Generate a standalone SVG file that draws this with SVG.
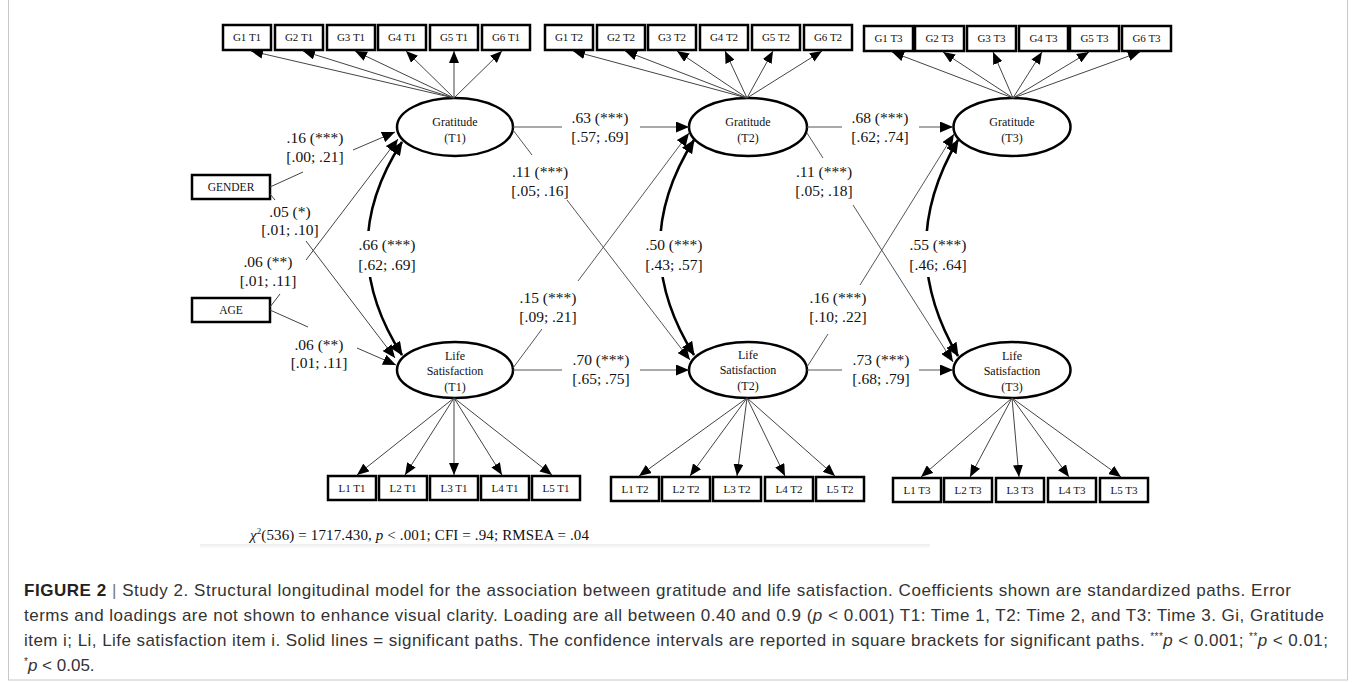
<svg xmlns="http://www.w3.org/2000/svg" width="1356" height="683" viewBox="0 0 1356 683">
<defs>
<marker id="a" markerUnits="userSpaceOnUse" markerWidth="12" markerHeight="10" viewBox="0 0 12 10" refX="12" refY="5" orient="auto"><path d="M0,0 L12,5 L0,10 z" fill="#000"/></marker>
<marker id="b" markerUnits="userSpaceOnUse" markerWidth="13" markerHeight="11" viewBox="0 0 13 11" refX="13" refY="5.5" orient="auto"><path d="M0,0 L13,5.5 L0,11 z" fill="#000"/></marker>
<marker id="c" markerUnits="userSpaceOnUse" markerWidth="14" markerHeight="12" viewBox="0 0 14 12" refX="13" refY="6" orient="auto-start-reverse"><path d="M0,0 L14,6 L0,12 z" fill="#000"/></marker>
<linearGradient id="sh" x1="0" y1="0" x2="0" y2="1"><stop offset="0" stop-color="#eeeeee"/><stop offset="1" stop-color="#fff"/></linearGradient>
</defs>
<style>
.box{fill:#fff;stroke:#000;stroke-width:2.5}
.ell{fill:#fff;stroke:#000;stroke-width:2.5}
.bt{font-family:"Liberation Serif",serif;font-size:11px;text-anchor:middle;fill:#111}
.et{font-family:"Liberation Serif",serif;font-size:12px;text-anchor:middle;fill:#111}
.lb{font-family:"Liberation Serif",serif;font-size:15.5px;text-anchor:middle;fill:#111}
.ld line{stroke:#444;stroke-width:1;marker-end:url(#a)}
.st line{stroke:#555;stroke-width:1}
.st line.ar{marker-end:url(#b)}
.cv{stroke:#000;stroke-width:2.5;fill:none;marker-start:url(#c);marker-end:url(#c)}
.cap{font-family:"Liberation Sans",Arial,sans-serif;font-size:17px;fill:#333}
</style>
<rect x="0" y="0" width="1356" height="683" fill="#fff"/>
<rect x="8.5" y="-5" width="1339" height="685" fill="none" stroke="#c8c8c8" stroke-width="1"/>
<rect x="200" y="544" width="730" height="5" fill="url(#sh)"/>

<g id="g-t1-items">
<rect class="box" x="223" y="25" width="48" height="25"/><text class="bt" x="247" y="41">G1 T1</text>
<rect class="box" x="275" y="25" width="48" height="25"/><text class="bt" x="299" y="41">G2 T1</text>
<rect class="box" x="327" y="25" width="48" height="25"/><text class="bt" x="351" y="41">G3 T1</text>
<rect class="box" x="378" y="25" width="48" height="25"/><text class="bt" x="402" y="41">G4 T1</text>
<rect class="box" x="430" y="25" width="48" height="25"/><text class="bt" x="454" y="41">G5 T1</text>
<rect class="box" x="482" y="25" width="48" height="25"/><text class="bt" x="506" y="41">G6 T1</text>
</g>
<g id="g-t2-items">
<rect class="box" x="545" y="25" width="48" height="25"/><text class="bt" x="569" y="41">G1 T2</text>
<rect class="box" x="597" y="25" width="48" height="25"/><text class="bt" x="621" y="41">G2 T2</text>
<rect class="box" x="648" y="25" width="48" height="25"/><text class="bt" x="672" y="41">G3 T2</text>
<rect class="box" x="700" y="25" width="48" height="25"/><text class="bt" x="724" y="41">G4 T2</text>
<rect class="box" x="752" y="25" width="48" height="25"/><text class="bt" x="776" y="41">G5 T2</text>
<rect class="box" x="804" y="25" width="48" height="25"/><text class="bt" x="828" y="41">G6 T2</text>
</g>
<g id="g-t3-items">
<rect class="box" x="864" y="26" width="49" height="25"/><text class="bt" x="888.5" y="42">G1 T3</text>
<rect class="box" x="915" y="26" width="49" height="25"/><text class="bt" x="939.5" y="42">G2 T3</text>
<rect class="box" x="967" y="26" width="49" height="25"/><text class="bt" x="991.5" y="42">G3 T3</text>
<rect class="box" x="1019" y="26" width="49" height="25"/><text class="bt" x="1043.5" y="42">G4 T3</text>
<rect class="box" x="1070" y="26" width="49" height="25"/><text class="bt" x="1094.5" y="42">G5 T3</text>
<rect class="box" x="1122" y="26" width="49" height="25"/><text class="bt" x="1146.5" y="42">G6 T3</text>
</g>
<g id="l-t1-items">
<rect class="box" x="328" y="476" width="48" height="24"/><text class="bt" x="352" y="492">L1 T1</text>
<rect class="box" x="379" y="476" width="48" height="24"/><text class="bt" x="403" y="492">L2 T1</text>
<rect class="box" x="430" y="476" width="48" height="24"/><text class="bt" x="454" y="492">L3 T1</text>
<rect class="box" x="481" y="476" width="48" height="24"/><text class="bt" x="505" y="492">L4 T1</text>
<rect class="box" x="532" y="476" width="48" height="24"/><text class="bt" x="556" y="492">L5 T1</text>
</g>
<g id="l-t2-items">
<rect class="box" x="611" y="477" width="48" height="24"/><text class="bt" x="635" y="493">L1 T2</text>
<rect class="box" x="662" y="477" width="48" height="24"/><text class="bt" x="686" y="493">L2 T2</text>
<rect class="box" x="713" y="477" width="48" height="24"/><text class="bt" x="737" y="493">L3 T2</text>
<rect class="box" x="765" y="477" width="48" height="24"/><text class="bt" x="789" y="493">L4 T2</text>
<rect class="box" x="816" y="477" width="48" height="24"/><text class="bt" x="840" y="493">L5 T2</text>
</g>
<g id="l-t3-items">
<rect class="box" x="893" y="478" width="48" height="24"/><text class="bt" x="917" y="494">L1 T3</text>
<rect class="box" x="944" y="478" width="48" height="24"/><text class="bt" x="968" y="494">L2 T3</text>
<rect class="box" x="996" y="478" width="48" height="24"/><text class="bt" x="1020" y="494">L3 T3</text>
<rect class="box" x="1048" y="478" width="48" height="24"/><text class="bt" x="1072" y="494">L4 T3</text>
<rect class="box" x="1100" y="478" width="48" height="24"/><text class="bt" x="1124" y="494">L5 T3</text>
</g>
<g id="gender"><rect class="box" x="192" y="175" width="78" height="24"/><text class="et" style="font-size:11.5px" x="231" y="191">GENDER</text></g>
<g id="age"><rect class="box" x="192" y="298" width="78" height="24"/><text class="et" style="font-size:11.5px" x="231" y="314">AGE</text></g>
<g id="grat-t1"><ellipse class="ell" cx="455" cy="127" rx="58" ry="29"/><text class="et" x="455" y="126">Gratitude</text><text class="et" x="455" y="142">(T1)</text></g>
<g id="grat-t2"><ellipse class="ell" cx="748" cy="127" rx="59" ry="29"/><text class="et" x="748" y="126">Gratitude</text><text class="et" x="748" y="142">(T2)</text></g>
<g id="grat-t3"><ellipse class="ell" cx="1012" cy="127" rx="58.5" ry="29"/><text class="et" x="1012" y="126">Gratitude</text><text class="et" x="1012" y="142">(T3)</text></g>
<g id="life-t1"><ellipse class="ell" cx="455" cy="370" rx="58" ry="28"/><text class="et" x="455" y="360">Life</text><text class="et" x="455" y="375">Satisfaction</text><text class="et" x="455" y="391">(T1)</text></g>
<g id="life-t2"><ellipse class="ell" cx="748" cy="370" rx="59" ry="28"/><text class="et" x="748" y="359">Life</text><text class="et" x="748" y="374">Satisfaction</text><text class="et" x="748" y="390">(T2)</text></g>
<g id="life-t3"><ellipse class="ell" cx="1012" cy="370" rx="58.5" ry="28"/><text class="et" x="1012" y="360">Life</text><text class="et" x="1012" y="375">Satisfaction</text><text class="et" x="1012" y="391">(T3)</text></g>

<g id="connectors">
<g class="ld">
<line x1="454" y1="98" x2="251" y2="51"/><line x1="454" y1="98" x2="303" y2="51"/><line x1="454" y1="98" x2="355" y2="51"/>
<line x1="454" y1="98" x2="406" y2="51"/><line x1="454" y1="98" x2="454" y2="51"/><line x1="454" y1="98" x2="502" y2="51"/>
<line x1="747" y1="98" x2="573" y2="51"/><line x1="747" y1="98" x2="625" y2="51"/><line x1="747" y1="98" x2="677" y2="51"/>
<line x1="747" y1="98" x2="725" y2="51"/><line x1="747" y1="98" x2="773" y2="51"/><line x1="747" y1="98" x2="822" y2="51"/>
<line x1="1013" y1="98" x2="892" y2="52"/><line x1="1013" y1="98" x2="943" y2="52"/><line x1="1013" y1="98" x2="993" y2="52"/>
<line x1="1013" y1="98" x2="1042" y2="52"/><line x1="1013" y1="98" x2="1089" y2="52"/><line x1="1013" y1="98" x2="1140" y2="52"/>
<line x1="454" y1="398" x2="357" y2="475"/><line x1="454" y1="398" x2="405" y2="475"/><line x1="454" y1="398" x2="454" y2="475"/>
<line x1="454" y1="398" x2="502" y2="475"/><line x1="454" y1="398" x2="552" y2="475"/>
<line x1="747" y1="398" x2="639" y2="476"/><line x1="747" y1="398" x2="690" y2="476"/><line x1="747" y1="398" x2="737" y2="476"/>
<line x1="747" y1="398" x2="785" y2="476"/><line x1="747" y1="398" x2="835" y2="476"/>
<line x1="1012" y1="398" x2="921" y2="477"/><line x1="1012" y1="398" x2="970" y2="477"/><line x1="1012" y1="398" x2="1019" y2="477"/>
<line x1="1012" y1="398" x2="1069" y2="477"/><line x1="1012" y1="398" x2="1121" y2="477"/>
</g>
<g class="st">
<line x1="513" y1="127" x2="562" y2="127"/><line class="ar" x1="640" y1="127" x2="689" y2="127"/>
<line x1="807" y1="127" x2="842" y2="127"/><line class="ar" x1="919" y1="127" x2="953" y2="127"/>
<line x1="513" y1="370" x2="562" y2="370"/><line class="ar" x1="640" y1="370" x2="689" y2="370"/>
<line x1="807" y1="370" x2="842" y2="370"/><line class="ar" x1="919" y1="370" x2="953" y2="370"/>
<line x1="513" y1="130" x2="532" y2="155"/><line class="ar" x1="567" y1="200" x2="690" y2="360"/>
<line x1="513" y1="368" x2="542" y2="329"/><line class="ar" x1="578" y1="281" x2="689" y2="133"/>
<line x1="807" y1="133" x2="823" y2="158"/><line class="ar" x1="853" y1="205" x2="953" y2="362"/>
<line x1="807" y1="367" x2="828" y2="334"/><line class="ar" x1="860" y1="285" x2="954" y2="134"/>
<line x1="270" y1="187" x2="303" y2="172" style="stroke:#444"/><line class="ar" x1="353" y1="150" x2="395" y2="132" style="stroke:#444"/>
<line x1="270" y1="194" x2="275" y2="200" style="stroke:#444"/><line class="ar" x1="306" y1="241" x2="395" y2="358" style="stroke:#444"/>
<line x1="270" y1="307" x2="280" y2="294" style="stroke:#444"/><line class="ar" x1="306" y1="260" x2="398" y2="139" style="stroke:#444"/>
<line x1="270" y1="310" x2="308" y2="327" style="stroke:#444"/><line class="ar" x1="357" y1="348" x2="396" y2="365" style="stroke:#444"/>
</g>
<path class="cv" d="M402,142 Q333,248 402,355"/>
<path class="cv" d="M694,140 Q626,247 694,355"/>
<path class="cv" d="M958,140 Q894,248 958,356"/>
</g>

<g id="labels">
<rect x="355" y="231" width="64" height="46" fill="#fff"/>
<rect x="642" y="231" width="64" height="46" fill="#fff"/>
<rect x="906" y="231" width="64" height="46" fill="#fff"/>
<text class="lb" x="315" y="143">.16 (***)</text><text class="lb" x="315" y="162">[.00; .21]</text>
<text class="lb" x="290" y="217">.05 (*)</text><text class="lb" x="290" y="235">[.01; .10]</text>
<text class="lb" x="268" y="267">.06 (**)</text><text class="lb" x="268" y="286">[.01; .11]</text>
<text class="lb" x="319" y="350">.06 (**)</text><text class="lb" x="319" y="368">[.01; .11]</text>
<text class="lb" x="387" y="250">.66 (***)</text><text class="lb" x="387" y="270">[.62; .69]</text>
<text class="lb" x="674" y="250">.50 (***)</text><text class="lb" x="674" y="270">[.43; .57]</text>
<text class="lb" x="938" y="250">.55 (***)</text><text class="lb" x="938" y="270">[.46; .64]</text>
<text class="lb" x="600" y="123">.63 (***)</text><text class="lb" x="600" y="142">[.57; .69]</text>
<text class="lb" x="880" y="123">.68 (***)</text><text class="lb" x="880" y="142">[.62; .74]</text>
<text class="lb" x="601" y="365">.70 (***)</text><text class="lb" x="601" y="384">[.65; .75]</text>
<text class="lb" x="881" y="365">.73 (***)</text><text class="lb" x="881" y="384">[.68; .79]</text>
<text class="lb" x="540" y="177">.11 (***)</text><text class="lb" x="540" y="196">[.05; .16]</text>
<text class="lb" x="824" y="177">.11 (***)</text><text class="lb" x="824" y="196">[.05; .18]</text>
<text class="lb" x="548" y="303">.15 (***)</text><text class="lb" x="548" y="322">[.09; .21]</text>
<text class="lb" x="838" y="303">.16 (***)</text><text class="lb" x="838" y="322">[.10; .22]</text>
<text x="250" y="540" font-family="Liberation Serif, serif" font-size="15px" fill="#111" textLength="339" lengthAdjust="spacing"><tspan font-style="italic">χ</tspan><tspan font-size="9px" dy="-6">2</tspan><tspan dy="6">(536) = 1717.430, </tspan><tspan font-style="italic">p</tspan> &lt; .001; CFI = .94; RMSEA = .04</text>
</g>

<g id="caption" class="cap">
<text x="24" y="596" textLength="1267" lengthAdjust="spacing"><tspan font-weight="bold" fill="#222">FIGURE 2</tspan> <tspan fill="#777">|</tspan> Study 2. Structural longitudinal model for the association between gratitude and life satisfaction. Coefficients shown are standardized paths. Error</text>
<text x="24" y="621" textLength="1300" lengthAdjust="spacing">terms and loadings are not shown to enhance visual clarity. Loading are all between 0.40 and 0.9 (<tspan font-style="italic">p</tspan> &lt; 0.001) T1: Time 1, T2: Time 2, and T3: Time 3. Gi, Gratitude</text>
<text x="24" y="646" textLength="1304" lengthAdjust="spacing">item i; Li, Life satisfaction item i. Solid lines = significant paths. The confidence intervals are reported in square brackets for significant paths. <tspan font-size="10px" dy="-6">***</tspan><tspan font-style="italic" dy="6">p</tspan> &lt; 0.001; <tspan font-size="10px" dy="-6">**</tspan><tspan font-style="italic" dy="6">p</tspan> &lt; 0.01;</text>
<text x="24" y="671"><tspan font-size="10px" dy="-6">*</tspan><tspan font-style="italic" dy="6">p</tspan> &lt; 0.05.</text>
</g>
</svg>
